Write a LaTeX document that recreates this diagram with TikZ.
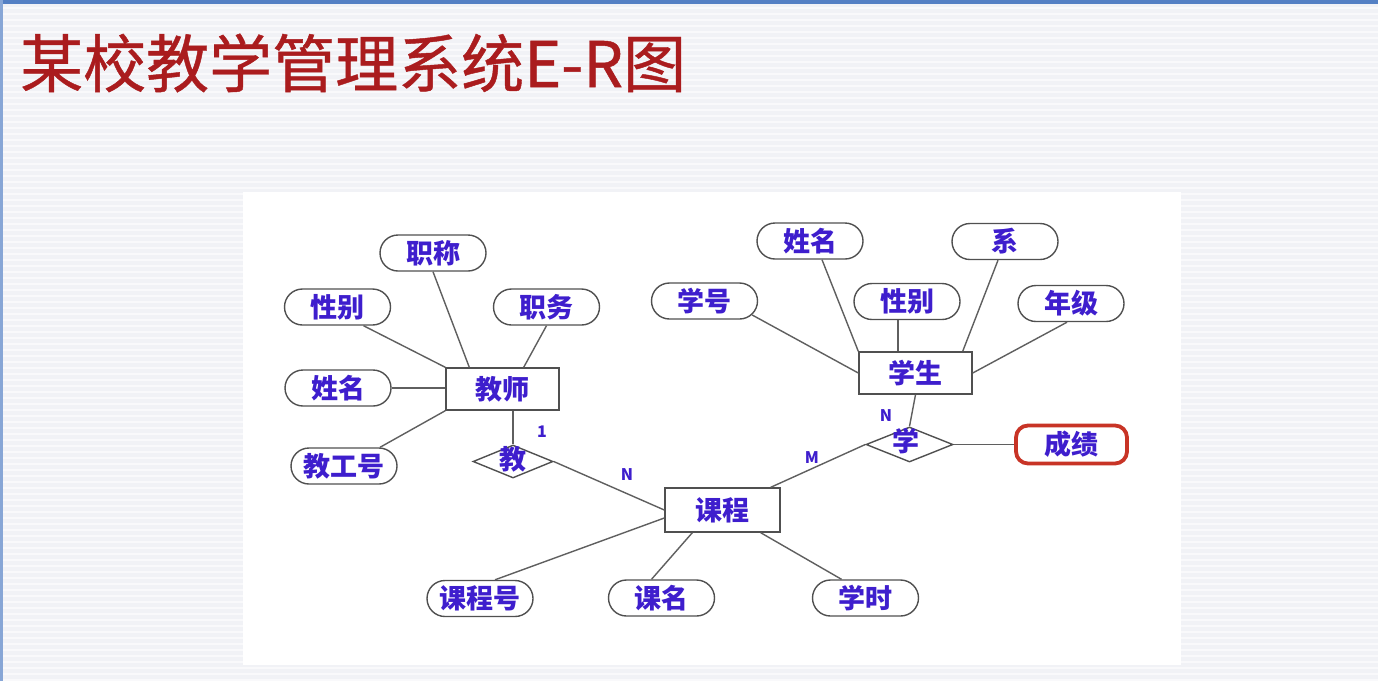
\documentclass[tikz,border=0pt]{standalone}
\usepackage{fontspec}
\usetikzlibrary{shapes.geometric,shapes.misc,calc}
\newfontfamily\cjk{Noto Sans CJK SC}
\newfontfamily\cjktitle{Noto Sans CJK SC}[FakeBold=0.7]
\definecolor{ink}{RGB}{62,30,205}
\definecolor{titlered}{RGB}{170,28,30}
\definecolor{edgegray}{RGB}{80,80,80}
\definecolor{linegray}{RGB}{95,95,95}
\definecolor{slidebg}{RGB}{241,242,246}
\definecolor{slidestripe}{RGB}{249,249,251}
\definecolor{topbar}{RGB}{84,128,196}
\definecolor{gradered}{RGB}{200,52,38}
\newcommand{\nodefont}{\cjk\bfseries\fontsize{27}{29}\selectfont}
\newcommand{\cardfont}{\cjk\bfseries\fontsize{16}{18}\selectfont}
\tikzset{
  conn/.style={draw=linegray, line width=1.4pt},
  attr/.style={rounded rectangle, draw=edgegray, line width=1.4pt, fill=white,
    minimum width=106pt, minimum height=36pt, inner sep=0pt, font=\nodefont, text=ink},
  entity/.style={draw=edgegray, line width=1.4pt, fill=white,
    minimum width=113pt, minimum height=42pt, inner sep=0pt, font=\nodefont, text=ink},
  rel/.style={diamond, draw=edgegray, line width=1.4pt, fill=white, inner sep=0pt},
  reltext/.style={font=\nodefont, text=ink, inner sep=0pt},
  card/.style={font=\cardfont, text=ink, inner sep=0pt},
}
\begin{document}
\begin{tikzpicture}[x=1pt, y=-1pt]
\useasboundingbox (0,0) rectangle (1378,681);
% slide background
\fill[slidebg] (0,0) rectangle (1378,681);
\foreach \yy in {8,14,...,680}
  \draw[slidestripe, line width=2pt] (0,\yy) -- (1378,\yy);
\fill[topbar] (0,0) rectangle (1378,4);
\fill[topbar!70] (0,0) rectangle (2.5,681);
% title
\node[anchor=west, inner sep=0pt, text=titlered, font=\cjktitle\fontsize{63}{66}\selectfont]
  (title) at (20,63) {某校教学管理系统E-R图};
% white drawing panel
\fill[white] (243,192) rectangle (1181,665);

% entities
\node[entity] (teacher) at (502.5,389) {教师};
\node[entity, minimum width=115pt, minimum height=44pt] (course) at (722.5,510) {课程};
\node[entity] (stu) at (915.5,373) {学生};

% relationships
\node[rel, minimum width=80pt, minimum height=33pt] (teach) at (513,461.5) {};
\node[reltext] (teachtxt) at (513,459) {教};
\node[rel, minimum width=87pt, minimum height=35pt] (learn) at (909.5,444.5) {};
\node[reltext] (learntxt) at (906,441) {学};

% teacher attributes
\node[attr] (tzc) at (433,253) {职称};
\node[attr] (txb) at (337.5,307) {性别};
\node[attr] (tzw) at (546.5,307) {职务};
\node[attr] (txm) at (338,388) {姓名};
\node[attr] (tgh) at (344,466) {教工号};

% course attributes
\node[attr] (ckh) at (480,598.5) {课程号};
\node[attr] (ckm) at (661.5,598) {课名};
\node[attr] (cxs) at (865.5,598) {学时};

% student attributes
\node[attr] (sxh) at (704.5,301) {学号};
\node[attr] (sxm) at (810,241) {姓名};
\node[attr] (sxb) at (907,301.5) {性别};
\node[attr] (sxi) at (1005,241.5) {系};
\node[attr] (snj) at (1071,303.5) {年级};

% grade attribute, highlighted
\node[draw=gradered, line width=3.8pt, fill=white, rounded corners=12pt,
  minimum width=111pt, minimum height=38pt, inner sep=0pt, font=\nodefont, text=ink]
  (grade) at (1071.5,444.5) {成绩};

% teacher links
\draw[conn] (tzc.south) -- ($(teacher.north west)+(24,0)$);
\draw[conn] ($(txb.south)+(26,0)$) -- (teacher.north west);
\draw[conn] (tzw.south) -- ($(teacher.north east)+(-36,0)$);
\draw[conn] (txm.east) -- (txm.east -| teacher.west);
\draw[conn] ($(tgh.north)+(36,0)$) -- (teacher.south west);
\draw[conn] (teach.north |- teacher.south) -- (teach.north);

% course links
\draw[conn] (teach.east) -- (course.west);
\draw[conn] ($(course.north east)+(-10,0)$) -- (learn.west);
\draw[conn] ($(course.west)+(0,8)$) -- ($(ckh.north)+(15,0)$);
\draw[conn] ($(course.south west)+(28,0)$) -- ($(ckm.north)+(-10,0)$);
\draw[conn] ($(course.south east)+(-20,0)$) -- ($(cxs.north)+(-24,0)$);

% student links
\draw[conn] (stu.south) -- (learn.north);
\draw[conn] (learn.east) -- (grade.west);
\draw[conn] ($(sxh.east)+(-6,14)$) -- (stu.west);
\draw[conn] ($(sxm.south)+(12,0)$) -- (stu.north west);
\draw[conn] ($(sxb.south)+(-9,0)$) -- ($(stu.north)+(-17.5,0)$);
\draw[conn] ($(sxi.south)+(-7,0)$) -- ($(stu.north east)+(-10,0)$);
\draw[conn] ($(snj.south)+(-4,0)$) -- (stu.east);

% cardinalities
\node[card] (c1) at (542,432) {1};
\node[card] (c2) at (627,475) {N};
\node[card] (c3) at (812,458) {M};
\node[card] (c4) at (886,416) {N};
\end{tikzpicture}
\end{document}
